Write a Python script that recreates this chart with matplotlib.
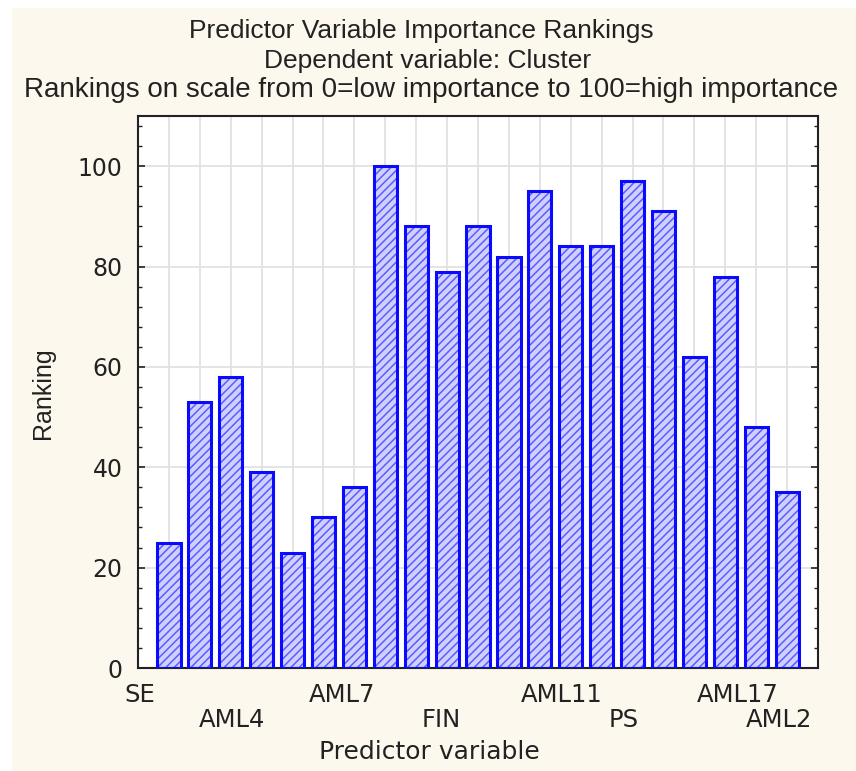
#!/usr/bin/env python3

import matplotlib
matplotlib.use("Agg")
import matplotlib.pyplot as plt
from matplotlib.patches import Rectangle
from matplotlib.ticker import MultipleLocator


rankings = [25, 53, 58, 39, 23, 30, 36, 100, 88, 79, 88, 82, 95, 84, 84, 97, 91, 62, 78, 48, 35]

# staggered category labels (Statistica style), placed
upper_labels = ["SE", "AML7", "AML11", "AML17"]
upper_pos = [0.06, 6.6, 13.7, 19.4]
lower_labels = ["AML4", "FIN", "PS", "AML2"]
lower_pos = [3.04, 9.8, 15.7, 20.75]


def main():
    plt.rcParams["font.family"] = ["Liberation Sans", "DejaVu Sans"]
    plt.rcParams["hatch.linewidth"] = 1.1

    fig = plt.figure(figsize=(8.56, 7.71), dpi=100, facecolor="white")
    # cream panel behind everything
    fig.patches.append(Rectangle((12 / 856, 0), 1, 1 - 8 / 771, transform=fig.transFigure,
                                 facecolor="#fdf8ee", edgecolor="none", zorder=-10))

    ax = fig.add_axes([138 / 856, 1 - 668 / 771, (818 - 138) / 856, (668 - 116) / 771])
    ax.set_facecolor("white")

    pos = list(range(1, len(rankings) + 1))
    for x in pos:
        ax.axvline(x, color="#e2e2e2", lw=1.3, zorder=0)
    ax.yaxis.grid(True, color="#e2e2e2", lw=1.3, zorder=0)
    ax.set_axisbelow(True)

    ax.bar(pos, rankings, width=0.75, color="#d0d0ff", edgecolor="#5c5cff", hatch="////",
           linewidth=0, zorder=2)
    ax.bar(pos, rankings, width=0.75, color="none", edgecolor="#0a0aff", linewidth=2.2, zorder=3)

    ax.set_xlim(0, 22)
    ax.set_ylim(0, 110)
    ax.yaxis.set_major_locator(MultipleLocator(20))
    ax.yaxis.set_minor_locator(MultipleLocator(4))
    ax.set_yticks([0, 20, 40, 60, 80, 100])
    ax.tick_params(axis="y", which="both", direction="in", right=True, labelsize=17, pad=11,
                   colors="#222222")
    ax.tick_params(axis="y", which="major", length=5, width=1.2)
    ax.tick_params(axis="y", which="minor", length=3, width=1)
    for lab in ax.get_yticklabels():
        lab.set_family(["DejaVu Sans"])

    ax.set_xticks(upper_pos)
    ax.set_xticklabels(upper_labels)
    ax.set_xticks(lower_pos, minor=True)
    ax.set_xticklabels(lower_labels, minor=True)
    ax.tick_params(axis="x", which="major", length=0, pad=11, labelsize=17.5, colors="#222222")
    ax.tick_params(axis="x", which="minor", length=0, pad=29, labelsize=17.5, colors="#222222")
    for lab in ax.get_xticklabels() + ax.get_xticklabels(minor=True):
        lab.set_family(["DejaVu Sans"])

    for side in ["left", "right", "top", "bottom"]:
        ax.spines[side].set_color("#222222")
        ax.spines[side].set_linewidth(1.5)

    fig.text(0.492, 1 - 31 / 771, "Predictor Variable Importance Rankings", ha="center",
             va="center", fontsize=19, color="#222222")
    fig.text(0.5, 1 - 61 / 771, "Dependent variable: Cluster", ha="center",
             va="center", fontsize=19, color="#222222")
    fig.text(0.503, 1 - 90 / 771, "Rankings on scale from 0=low importance to 100=high importance",
             ha="center", va="center", fontsize=20, color="#222222")

    fig.text(43 / 856, 1 - 393 / 771, "Ranking", rotation=90, ha="center", va="center",
             fontsize=18, color="#222222")
    fig.text(429 / 856, 1 - 752 / 771, "Predictor variable", ha="center", va="center",
             fontsize=18, color="#222222", family=["DejaVu Sans"])

    fig.savefig("out.png", dpi=100, facecolor=fig.get_facecolor())


if __name__ == "__main__":
    main()
